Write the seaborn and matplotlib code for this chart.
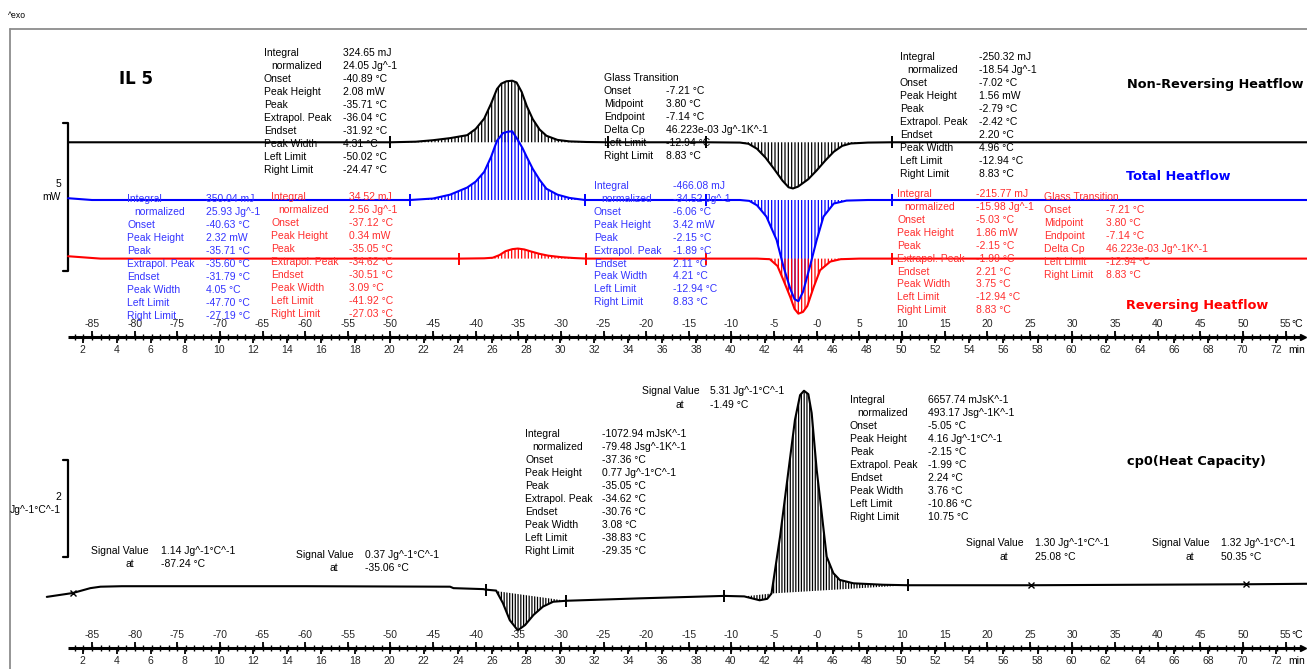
import numpy as np
import matplotlib
matplotlib.use("Agg")
import matplotlib.pyplot as plt
import matplotlib.transforms as mtransforms
from matplotlib.lines import Line2D
import seaborn as sns

# ---------------- measured signals ----------------
# Non-reversing heat flow, mW relative to its own baseline
nrev_p1_T = [-50.02, -47, -45, -43, -41, -40, -39, -38.2, -37.5, -37, -36.4, -35.71,
             -35.2, -34.6, -34, -33.3, -32.5, -31.7, -30.4, -29, -27, -24.47]
nrev_p1_mW = [0, 0.02, 0.07, 0.14, 0.24, 0.45, 0.80, 1.30, 1.80, 1.98, 2.06, 2.08,
              2.02, 1.70, 1.22, 0.78, 0.43, 0.22, 0.08, 0.03, 0.01, 0]
nrev_p2_T = [-12.94, -9, -8, -7, -6, -5, -4, -3.3, -2.79, -2.2, -1, 0, 1, 2, 3, 4, 6, 8.83]
nrev_p2_mW = [0, -0.01, -0.05, -0.22, -0.52, -0.90, -1.30, -1.52, -1.56, -1.50, -1.25,
              -0.95, -0.62, -0.32, -0.12, -0.04, -0.01, 0]

# Total heat flow
total_p1_T = [-47.70, -45, -43, -41, -40, -39, -38.2, -37.5, -36.8, -36.2, -35.71, -35.1,
              -34.5, -34, -33.3, -32.5, -31.7, -30.4, -29, -27.19]
total_p1_mW = [0, 0.05, 0.18, 0.42, 0.62, 0.95, 1.45, 2.0, 2.26, 2.31, 2.32, 2.05,
               1.75, 1.45, 1.05, 0.68, 0.38, 0.18, 0.07, 0]
total_p2_T = [-12.94, -9, -7.9, -7, -5.9, -4.7, -3.9, -3.1, -2.6, -2.15, -1.6, -0.8, 0,
              0.8, 2.0, 3.5, 6, 8.83]
total_p2_mW = [0, 0, -0.03, -0.18, -0.56, -1.35, -2.25, -3.0, -3.35, -3.42, -3.1, -2.25,
               -1.35, -0.56, -0.12, -0.02, 0, 0]

# Reversing heat flow
rev_p1_T = [-41.92, -39, -38, -37.2, -36.5, -35.7, -35.05, -34.3, -33.5, -32.5, -31.5,
            -30, -28.5, -27.03]
rev_p1_mW = [0, 0.01, 0.03, 0.12, 0.25, 0.32, 0.34, 0.31, 0.24, 0.16, 0.10, 0.05, 0.02, 0]
rev_p2_T = [-12.94, -7, -5.5, -4.6, -3.9, -3.1, -2.6, -2.15, -1.6, -1.1, -0.35, 0.4, 1.6,
            2.8, 5, 8.83]
rev_p2_mW = [0, 0, -0.02, -0.25, -0.73, -1.3, -1.7, -1.86, -1.8, -1.6, -0.96, -0.39,
             -0.1, -0.02, 0, 0]

# Run start / end of the heat flow traces
run_start_T, run_end_T = -87.8, 57.5
total_start_mW = 0.06
rev_start_mW = 0.08

# Integration limits on each heat flow trace (°C)
nrev_limits = [-50.02, -24.47, -12.94, 8.83]
total_limits = [-47.70, -27.19, -12.94, 8.83]
rev_limits = [-41.92, -27.03, -12.94, 8.83]

# Heat capacity cp0, J g^-1 °C^-1
cp_T = [-90.3, -87.24, -85.2, -84.0, -81.5, -60.0, -43.0, -42.6, -39.1, -38.83, -37.6,
        -36.8, -36.0, -35.06, -34.2, -33.2, -32.1, -30.9, -29.35, -20.7, -10.86, -8.5,
        -7.6, -6.7, -5.8, -5.3, -4.3, -3.3, -2.55, -1.95, -1.49, -0.98, -0.59, 0.0, 0.59,
        1.17, 1.95, 2.7, 4.3, 7.8, 10.75, 25.08, 50.35, 57.5]
cp_val = [1.06, 1.14, 1.24, 1.27, 1.28, 1.28, 1.27, 1.24, 1.22, 1.21, 1.19, 0.93, 0.58,
          0.37, 0.48, 0.69, 0.86, 0.96, 0.98, 1.03, 1.08, 1.07, 1.03, 0.99, 1.02, 1.13,
          2.30, 3.68, 4.71, 5.22, 5.31, 5.24, 4.85, 3.68, 2.78, 1.89, 1.55, 1.41, 1.34,
          1.31, 1.30, 1.30, 1.32, 1.33]
cp_limits = [-38.83, -29.35, -10.86, 10.75]
cp_signal_T = [-87.24, 25.08, 50.35]
cp_dip_range = (-38.83, -29.35)
cp_small_dip_range = (-8.5, -5.3)
cp_peak_range = (-5.3, 10.75)

# Axis scales
temp_ticks = list(range(-85, 56, 5))
temp_tick_labels = [("-0" if t == 0 else str(t)) for t in temp_ticks]
time_ticks = list(range(2, 73, 2))
heating_rate = 2.0     # K/min
start_temp = -90.1     # °C at t = 0 min

# ---------------- evaluation tables ----------------
nrev_peak1_rows = [("Integral", "324.65 mJ"), (" normalized", "24.05 Jg^-1"),
                   ("Onset", "-40.89 °C"), ("Peak Height", "2.08 mW"), ("Peak", "-35.71 °C"),
                   ("Extrapol. Peak", "-36.04 °C"), ("Endset", "-31.92 °C"),
                   ("Peak Width", "4.31 °C"), ("Left Limit", "-50.02 °C"),
                   ("Right Limit", "-24.47 °C")]
glass_rows = [("Glass Transition", ""), ("Onset", "-7.21 °C"), ("Midpoint", "3.80 °C"),
              ("Endpoint", "-7.14 °C"), ("Delta Cp", "46.223e-03 Jg^-1K^-1"),
              ("Left Limit", "-12.94 °C"), ("Right Limit", "8.83 °C")]
nrev_peak2_rows = [("Integral", "-250.32 mJ"), (" normalized", "-18.54 Jg^-1"),
                   ("Onset", "-7.02 °C"), ("Peak Height", "1.56 mW"), ("Peak", "-2.79 °C"),
                   ("Extrapol. Peak", "-2.42 °C"), ("Endset", "2.20 °C"),
                   ("Peak Width", "4.96 °C"), ("Left Limit", "-12.94 °C"),
                   ("Right Limit", "8.83 °C")]
total_peak1_rows = [("Integral", "350.04 mJ"), (" normalized", "25.93 Jg^-1"),
                    ("Onset", "-40.63 °C"), ("Peak Height", "2.32 mW"), ("Peak", "-35.71 °C"),
                    ("Extrapol. Peak", "-35.60 °C"), ("Endset", "-31.79 °C"),
                    ("Peak Width", "4.05 °C"), ("Left Limit", "-47.70 °C"),
                    ("Right Limit", "-27.19 °C")]
rev_peak1_rows = [("Integral", "34.52 mJ"), (" normalized", "2.56 Jg^-1"),
                  ("Onset", "-37.12 °C"), ("Peak Height", "0.34 mW"), ("Peak", "-35.05 °C"),
                  ("Extrapol. Peak", "-34.62 °C"), ("Endset", "-30.51 °C"),
                  ("Peak Width", "3.09 °C"), ("Left Limit", "-41.92 °C"),
                  ("Right Limit", "-27.03 °C")]
total_peak2_rows = [("Integral", "-466.08 mJ"), (" normalized", "-34.52 Jg^-1"),
                    ("Onset", "-6.06 °C"), ("Peak Height", "3.42 mW"), ("Peak", "-2.15 °C"),
                    ("Extrapol. Peak", "-1.89 °C"), ("Endset", "2.11 °C"),
                    ("Peak Width", "4.21 °C"), ("Left Limit", "-12.94 °C"),
                    ("Right Limit", "8.83 °C")]
rev_peak2_rows = [("Integral", "-215.77 mJ"), (" normalized", "-15.98 Jg^-1"),
                  ("Onset", "-5.03 °C"), ("Peak Height", "1.86 mW"), ("Peak", "-2.15 °C"),
                  ("Extrapol. Peak", "-1.99 °C"), ("Endset", "2.21 °C"),
                  ("Peak Width", "3.75 °C"), ("Left Limit", "-12.94 °C"),
                  ("Right Limit", "8.83 °C")]
cp_dip_rows = [("Integral", "-1072.94 mJsK^-1"), (" normalized", "-79.48 Jsg^-1K^-1"),
               ("Onset", "-37.36 °C"), ("Peak Height", "0.77 Jg^-1°C^-1"),
               ("Peak", "-35.05 °C"), ("Extrapol. Peak", "-34.62 °C"),
               ("Endset", "-30.76 °C"), ("Peak Width", "3.08 °C"),
               ("Left Limit", "-38.83 °C"), ("Right Limit", "-29.35 °C")]
cp_peak_rows = [("Integral", "6657.74 mJsK^-1"), (" normalized", "493.17 Jsg^-1K^-1"),
                ("Onset", "-5.05 °C"), ("Peak Height", "4.16 Jg^-1°C^-1"),
                ("Peak", "-2.15 °C"), ("Extrapol. Peak", "-1.99 °C"),
                ("Endset", "2.24 °C"), ("Peak Width", "3.76 °C"),
                ("Left Limit", "-10.86 °C"), ("Right Limit", "10.75 °C")]
signal_rows = [("1.14 Jg^-1°C^-1", "-87.24 °C"), ("0.37 Jg^-1°C^-1", "-35.06 °C"),
               ("5.31 Jg^-1°C^-1", "-1.49 °C"), ("1.30 Jg^-1°C^-1", "25.08 °C"),
               ("1.32 Jg^-1°C^-1", "50.35 °C")]

# ---------------- figure set-up ----------------
sns.set_style("white")
plt.rcParams["font.family"] = ["Liberation Sans", "DejaVu Sans"]
plt.rcParams["hatch.linewidth"] = 0.9

W, H = 1307, 669
fig = plt.figure(figsize=(W / 100, H / 100), dpi=100)
fig.patch.set_facecolor("white")
pix = mtransforms.Affine2D().scale(1, -1).translate(0, H)   # pixel coords, origin top-left

PX_PER_K, X_ZERO = 8.526, 816.7
PX_PER_MW, TOTAL_ROW = 29.6, 200.0
PX_PER_CP, CP_REF, CP_ROW = 48.5, 1.14, 593.0
NREV_OFFSET, TOTAL_OFFSET, REV_OFFSET = 1.95, 0.0, -1.98

xlim = (-X_ZERO / PX_PER_K, (W - X_ZERO) / PX_PER_K)
ax_top = fig.add_axes([0, (H - 380) / H, 1, 351 / H])
ax_top.set_xlim(*xlim)
ax_top.set_ylim((TOTAL_ROW - 380) / PX_PER_MW, (TOTAL_ROW - 29) / PX_PER_MW)
ax_bot = fig.add_axes([0, 0, 1, 289 / H])
ax_bot.set_xlim(*xlim)
ax_bot.set_ylim(CP_REF - (H - CP_ROW) / PX_PER_CP, CP_REF + (CP_ROW - 380) / PX_PER_CP)
for ax in (ax_top, ax_bot):
    ax.axis("off")
    ax.patch.set_alpha(0)

BLACK, BLUE, RED = "black", "#0000ff", "#ff0000"
BLUE_TXT, RED_TXT = "#3434ff", "#ff2e2e"


def put(x, y, s, color="black", size=7.5, weight="normal", ha="left", family=None):
    kw = {"family": family} if family else {}
    fig.text(x, y, s, transform=pix, color=color, fontsize=size, fontweight=weight,
             ha=ha, va="center", **kw)


def block(rows, x_lab, x_val, y0, color, step=12.97):
    for i, (name, val) in enumerate(rows):
        y = y0 + i * step
        indent = 7 if name.startswith(" ") else 0
        put(x_lab + indent, y, name.strip(), color)
        if val:
            put(x_val, y, val, color)


def trace(ax, T, v, offset, color, lw=1.5):
    sns.lineplot(x=np.asarray(T, float), y=np.asarray(v, float) + offset, ax=ax,
                 color=color, lw=lw, estimator=None, sort=False, legend=False, zorder=3)


def hatch(ax, T, v, offset, color, pattern="|||||"):
    T = np.asarray(T, float)
    v = np.asarray(v, float)
    ax.fill_between(T, v + offset, offset, facecolor="none", edgecolor=color,
                    hatch=pattern, lw=0, zorder=2)


# ---------------- heat flow traces ----------------
nrev_T = [run_start_T] + nrev_p1_T + nrev_p2_T + [run_end_T]
nrev_v = [0] + nrev_p1_mW + nrev_p2_mW + [0]
total_T = [run_start_T, -85] + total_p1_T + total_p2_T + [run_end_T]
total_v = [total_start_mW, 0] + total_p1_mW + total_p2_mW + [0]
rev_T = [run_start_T, -84] + rev_p1_T + rev_p2_T + [run_end_T]
rev_v = [rev_start_mW, 0] + rev_p1_mW + rev_p2_mW + [0]

for T, v, off, col in [(nrev_p1_T, nrev_p1_mW, NREV_OFFSET, BLACK),
                       (nrev_p2_T, nrev_p2_mW, NREV_OFFSET, BLACK),
                       (total_p1_T, total_p1_mW, TOTAL_OFFSET, BLUE),
                       (total_p2_T, total_p2_mW, TOTAL_OFFSET, BLUE),
                       (rev_p1_T, rev_p1_mW, REV_OFFSET, RED),
                       (rev_p2_T, rev_p2_mW, REV_OFFSET, RED)]:
    hatch(ax_top, T, v, off, col)

trace(ax_top, nrev_T, nrev_v, NREV_OFFSET, BLACK)
trace(ax_top, total_T, total_v, TOTAL_OFFSET, BLUE)
trace(ax_top, rev_T, rev_v, REV_OFFSET, RED)

for lims, off, col in [(nrev_limits, NREV_OFFSET, BLACK), (total_limits, TOTAL_OFFSET, BLUE),
                       (rev_limits, REV_OFFSET, RED)]:
    ax_top.plot(lims, [off] * len(lims), ls="none", marker="|", ms=8, mew=1.4,
                color=col, zorder=4)

# ---------------- heat capacity trace ----------------
cpT = np.asarray(cp_T, float)
cpv = np.asarray(cp_val, float)
for lo, hi in [cp_dip_range, cp_small_dip_range, cp_peak_range]:
    m = (cpT >= lo) & (cpT <= hi)
    Ts, vs = cpT[m], cpv[m]
    base = vs[0] + (vs[-1] - vs[0]) * (Ts - Ts[0]) / (Ts[-1] - Ts[0])
    ax_bot.fill_between(Ts, vs, base, facecolor="none", edgecolor=BLACK, hatch="||||||",
                        lw=0, zorder=2)
sns.lineplot(x=cpT, y=cpv, ax=ax_bot, color=BLACK, lw=1.5, estimator=None, sort=False,
             legend=False, zorder=3)
lim_idx = [cp_T.index(t) for t in cp_limits]
ax_bot.plot(cpT[lim_idx], cpv[lim_idx], ls="none", marker="|", ms=8, mew=1.4,
            color=BLACK, zorder=4)
sig_idx = [cp_T.index(t) for t in cp_signal_T]
ax_bot.plot(cpT[sig_idx], cpv[sig_idx], ls="none", marker="x", ms=4, mew=1.0,
            color=BLACK, zorder=4)


# ---------------- temperature / time axes ----------------
def time_axis(ax, y):
    bt = mtransforms.blended_transform_factory(ax.transData, pix)
    ax.plot([run_start_T, 57.0], [y, y], color=BLACK, lw=2.2, transform=bt,
            clip_on=False, solid_capstyle="butt")
    ax.plot([57.0], [y], marker=">", ms=5, color=BLACK, transform=bt, clip_on=False)
    minor = np.arange(-87, 57)
    ax.vlines(minor, y - 3, y + 3, color=BLACK, lw=1.0, transform=bt, clip_on=False)
    ax.vlines(temp_ticks, y - 6, y, color=BLACK, lw=1.3, transform=bt, clip_on=False)
    t_pos = [start_temp + heating_rate * t for t in time_ticks]
    ax.vlines(t_pos, y, y + 6, color=BLACK, lw=1.3, transform=bt, clip_on=False)
    for t, lab in zip(temp_ticks, temp_tick_labels):
        ax.text(t, y - 12.5, lab, transform=bt, ha="center", va="center", fontsize=7.5)
    for tp, t in zip(t_pos, time_ticks):
        ax.text(tp, y + 13.5, str(t), transform=bt, ha="center", va="center", fontsize=7.5)
    put(1291, y - 12.5, "°C")
    put(1288, y + 13.5, "min")


time_axis(ax_top, 336.5)
time_axis(ax_bot, 648.0)

# ---------------- scale bars ----------------
bt_top = mtransforms.blended_transform_factory(pix, ax_top.transData)
sb0 = (TOTAL_ROW - 271) / PX_PER_MW
ax_top.plot([63, 68, 68, 63], [sb0 + 5, sb0 + 5, sb0, sb0], color=BLACK, lw=1.6,
            transform=bt_top, clip_on=False)
put(61, 184, "5", ha="right")
put(61, 197, "mW", ha="right")

bt_bot = mtransforms.blended_transform_factory(pix, ax_bot.transData)
sc0 = CP_REF + (CP_ROW - 557) / PX_PER_CP
ax_bot.plot([63, 68, 68, 63], [sc0 + 2, sc0 + 2, sc0, sc0], color=BLACK, lw=1.6,
            transform=bt_bot, clip_on=False)
put(61, 497, "2", ha="right")
put(61, 510, "Jg^-1°C^-1", ha="right")

# ---------------- frame and titles ----------------
fig.add_artist(Line2D([10, 10], [29, H], transform=pix, color="#8c8c8c", lw=1.3))
fig.add_artist(Line2D([10, W], [29, 29], transform=pix, color="#8c8c8c", lw=1.3))
put(8, 15, "^exo", size=6.2)
put(119, 79, "IL 5", size=12, weight="bold", family="DejaVu Sans")
put(1127, 84.5, "Non-Reversing Heatflow", size=9.3, weight="bold", family="DejaVu Sans")
put(1126, 176.5, "Total Heatflow", size=9.3, weight="bold", color=BLUE, family="DejaVu Sans")
put(1126, 305, "Reversing Heatflow", size=9.3, weight="bold", color=RED, family="DejaVu Sans")
put(1127, 461, "cp0(Heat Capacity)", size=9.3, weight="bold", family="DejaVu Sans")

# ---------------- evaluation tables ----------------
block(nrev_peak1_rows, 264, 343, 53.3, BLACK)
block(glass_rows, 604, 666, 78.3, BLACK, step=13.0)
block(nrev_peak2_rows, 900, 979, 56.7, BLACK, step=13.04)
block(total_peak1_rows, 127, 206, 199, BLUE_TXT)
block(rev_peak1_rows, 271, 349, 197.5, RED_TXT)
block(total_peak2_rows, 594, 673, 185.7, BLUE_TXT)
block(rev_peak2_rows, 897, 976, 193.7, RED_TXT)
block(glass_rows, 1044, 1106, 197, RED_TXT, step=13.05)
block(cp_dip_rows, 525, 602, 434, BLACK, step=13.0)
block(cp_peak_rows, 850, 928, 400, BLACK, step=13.0)

for (val, at), (xl, xv, y) in zip(signal_rows, [(91, 161, 550.5), (296, 365, 555),
                                                (642, 710, 391.5), (966, 1035, 543.3),
                                                (1152, 1221, 543.3)]):
    put(xl, y, "Signal Value")
    put(xv, y, val)
    put(xv - 35, y + 13.3, "at")
    put(xv, y + 13.3, at)

fig.savefig("out.png", dpi=100, facecolor="white")
